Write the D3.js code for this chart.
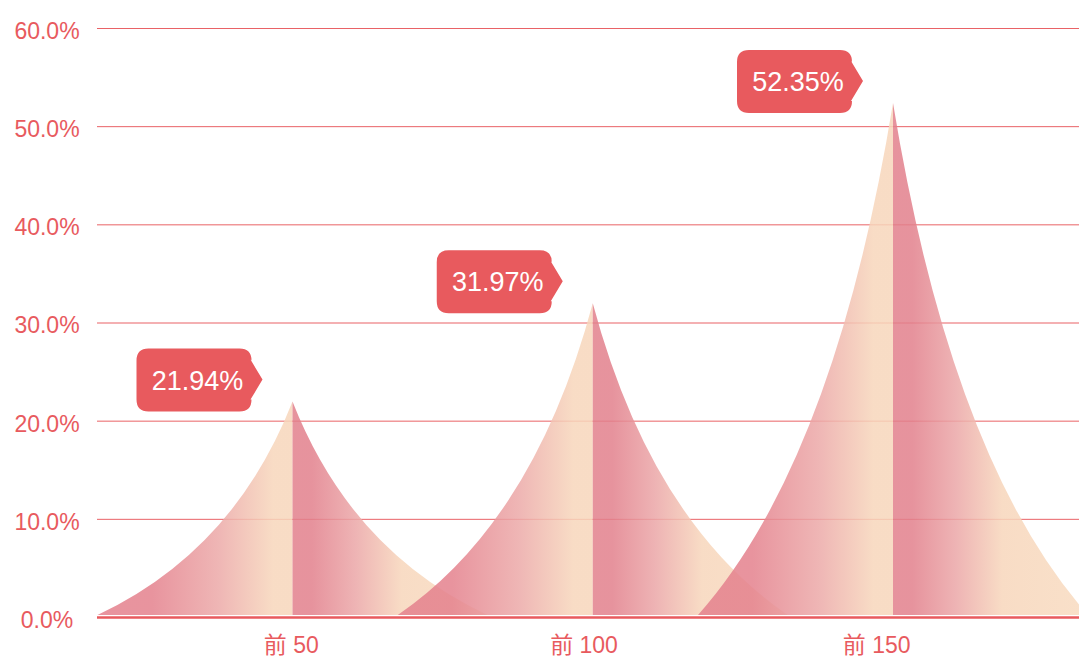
<!DOCTYPE html>
<html>
<head>
<meta charset="utf-8">
<script src="https://cdn.jsdelivr.net/npm/d3@7"></script>
<style>
  body { margin: 0; background: #fff; }
  svg text { font-family: "Liberation Sans", Arial, "Noto Sans CJK SC", sans-serif; }
</style>
</head>
<body>
<svg id="chart" width="1079" height="661"></svg>
<script>
// data
var categories = ['前 50', '前 100', '前 150'];
var values = [21.94, 31.97, 52.35];
var yTicks = [0, 10, 20, 30, 40, 50, 60];

var red = '#e85a5e';

function draw_peak_chart(svg_el) {
  var svg = d3.select(svg_el);
  var left = 97, right = 1079;

  // scales
  var y = d3.scaleLinear().domain([0, 60]).range([617, 28]);
  var xLabel = d3.scaleBand().domain(categories).range([145, 1023]);
  var xPeak = d3.scalePoint().domain(categories).range([292.5, 893]);
  var halfWidth = 195;

  // gradients for the two halves of each peak
  var defs = svg.append('defs');
  var gl = defs.append('linearGradient').attr('id', 'gradLeft')
      .attr('x1', 0).attr('y1', 0).attr('x2', 1).attr('y2', 0);
  [[0, '#e4818d'], [0.28, '#e4818d'], [0.62, '#eca9a8'], [0.9, '#f7d6bb'], [1, '#f7d6bb']]
    .forEach(function(s) { gl.append('stop').attr('offset', s[0]).attr('stop-color', s[1]); });
  var gr = defs.append('linearGradient').attr('id', 'gradRight')
      .attr('x1', 0).attr('y1', 0).attr('x2', 1).attr('y2', 0);
  [[0, '#e2808c'], [0.1, '#e2808c'], [0.32, '#eba6a7'], [0.56, '#f7d6bb'], [1, '#f8dbc0']]
    .forEach(function(s) { gr.append('stop').attr('offset', s[0]).attr('stop-color', s[1]); });

  // y axis with grid lines
  var yAxis = svg.append('g')
      .attr('transform', 'translate(' + left + ',0)')
      .call(d3.axisLeft(y).tickValues(yTicks)
        .tickSize(-(right - left))
        .tickFormat(function(d) { return d.toFixed(1) + '%'; }));
  yAxis.select('.domain').remove();
  yAxis.selectAll('.tick line').attr('stroke', red).attr('stroke-width', 1).attr('opacity', 0.95);
  yAxis.selectAll('.tick text')
      .attr('x', 47 - left)
      .attr('dy', '0.45em')
      .attr('text-anchor', 'middle')
      .attr('fill', red)
      .attr('font-size', 23);

  // peaks
  var base = y(0) - 2;
  var peaks = svg.append('g').attr('fill-opacity', 0.85);
  categories.forEach(function(c, i) {
    var cx = xPeak(c), top = y(values[i]), h = base - top;
    var cy = top + 0.7 * h;
    peaks.append('path')
        .attr('fill', 'url(#gradLeft)')
        .attr('d', 'M' + (cx - halfWidth) + ',' + base +
                   ' Q' + (cx - 0.3 * halfWidth) + ',' + cy + ' ' + cx + ',' + top +
                   ' L' + cx + ',' + base + ' Z');
    peaks.append('path')
        .attr('fill', 'url(#gradRight)')
        .attr('d', 'M' + cx + ',' + base + ' L' + cx + ',' + top +
                   ' Q' + (cx + 0.3 * halfWidth) + ',' + cy + ' ' + (cx + halfWidth) + ',' + base + ' Z');
  });

  // x axis line
  svg.append('line')
      .attr('x1', left).attr('x2', right)
      .attr('y1', y(0) + 0.5).attr('y2', y(0) + 0.5)
      .attr('stroke', red).attr('stroke-width', 2.5);

  // x axis labels
  var xAxis = svg.append('g')
      .attr('transform', 'translate(0,' + y(0) + ')')
      .call(d3.axisBottom(xLabel).tickSize(0).tickPadding(20));
  xAxis.select('.domain').remove();
  xAxis.selectAll('.tick text')
      .attr('fill', red)
      .attr('font-size', 23);

  // value bubbles
  var r = 12;
  categories.forEach(function(c, i) {
    var tx = xPeak(c) - 30, ty = y(values[i]) - 22;
    var L = tx - 126, R = tx - 11, T = ty - 31, B = ty + 32;
    var d = 'M' + (L + r) + ',' + T + ' H' + (R - r) +
            ' Q' + R + ',' + T + ' ' + R + ',' + (T + r) +
            ' L' + (R - 1) + ',' + (ty - 20) + ' L' + tx + ',' + ty +
            ' L' + (R - 1) + ',' + (ty + 20) + ' L' + R + ',' + (B - r) +
            ' Q' + R + ',' + B + ' ' + (R - r) + ',' + B +
            ' H' + (L + r) + ' Q' + L + ',' + B + ' ' + L + ',' + (B - r) +
            ' V' + (T + r) + ' Q' + L + ',' + T + ' ' + (L + r) + ',' + T + ' Z';
    svg.append('path').attr('d', d).attr('fill', red);
    svg.append('text')
        .attr('x', tx - 65).attr('y', ty + 10)
        .attr('text-anchor', 'middle')
        .attr('fill', '#fff')
        .attr('font-size', 27)
        .text(values[i].toFixed(2) + '%');
  });
}

draw_peak_chart('#chart');
</script>
</body>
</html>
